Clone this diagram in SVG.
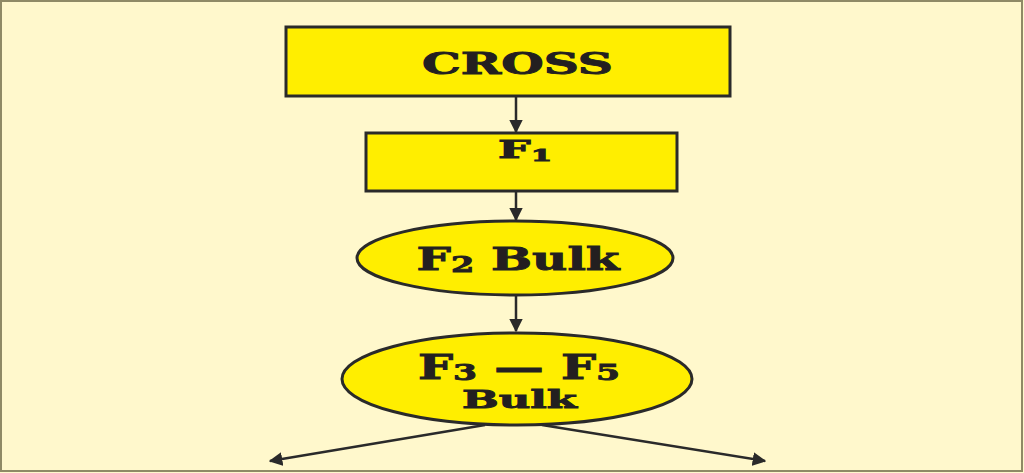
<svg xmlns="http://www.w3.org/2000/svg" width="1024" height="473" viewBox="0 0 1024 473">
<defs>
<style>
.box{fill:#FFEE00;stroke:#2a2a2a;stroke-width:3}
.lbl{font-family:"DejaVu Serif","Liberation Serif",serif;font-weight:bold;fill:#231F20;stroke:#231F20;stroke-width:0.9;text-anchor:middle}
.edge{stroke:#2a2a2a;stroke-width:2.5;fill:none}
</style>
<marker id="ah" viewBox="0 0 10 10" refX="9" refY="5" markerWidth="5.5" markerHeight="5.5" markerUnits="strokeWidth" orient="auto">
<path d="M0,0 L10,5 L0,10 Z" fill="#2a2a2a"/>
</marker>
</defs>
<rect x="0" y="0" width="1024" height="473" fill="#FFF8CC"/>
<rect x="1" y="1" width="1021" height="470" fill="none" stroke="#8f8a66" stroke-width="2"/>
<g id="node-cross">
<rect class="box" x="286" y="27" width="444" height="69"/>
<text class="lbl" x="517.5" y="74" font-size="30" textLength="191" lengthAdjust="spacingAndGlyphs">CROSS</text>
</g>
<g id="node-f1">
<rect class="box" x="366" y="133" width="311" height="58"/>
<text class="lbl" x="525" y="158" font-size="24" textLength="54" lengthAdjust="spacingAndGlyphs">F<tspan font-size="16" dy="3">1</tspan></text>
</g>
<g id="node-f2">
<ellipse class="box" cx="515" cy="258" rx="158" ry="37"/>
<text class="lbl" x="518" y="270" font-size="32" textLength="203" lengthAdjust="spacingAndGlyphs">F<tspan font-size="22" dy="2">2</tspan><tspan dy="-2"> Bulk</tspan></text>
</g>
<g id="node-f3f5">
<ellipse class="box" cx="517" cy="379" rx="175" ry="46"/>
<text class="lbl" x="519" y="379" font-size="33" textLength="202" lengthAdjust="spacingAndGlyphs">F<tspan font-size="23" dy="1">3</tspan><tspan dy="-1"> — F</tspan><tspan font-size="23" dy="1">5</tspan></text>
<text class="lbl" x="519.5" y="408" font-size="25" textLength="115" lengthAdjust="spacingAndGlyphs">Bulk</text>
</g>
<g id="connectors">
<line class="edge" x1="516" y1="96" x2="516" y2="132" marker-end="url(#ah)"/>
<line class="edge" x1="516" y1="191" x2="516" y2="220" marker-end="url(#ah)"/>
<line class="edge" x1="516" y1="295" x2="516" y2="331" marker-end="url(#ah)"/>
<line class="edge" x1="485" y1="425" x2="270" y2="461" marker-end="url(#ah)"/>
<line class="edge" x1="542" y1="425" x2="765" y2="461" marker-end="url(#ah)"/>
</g>
</svg>
